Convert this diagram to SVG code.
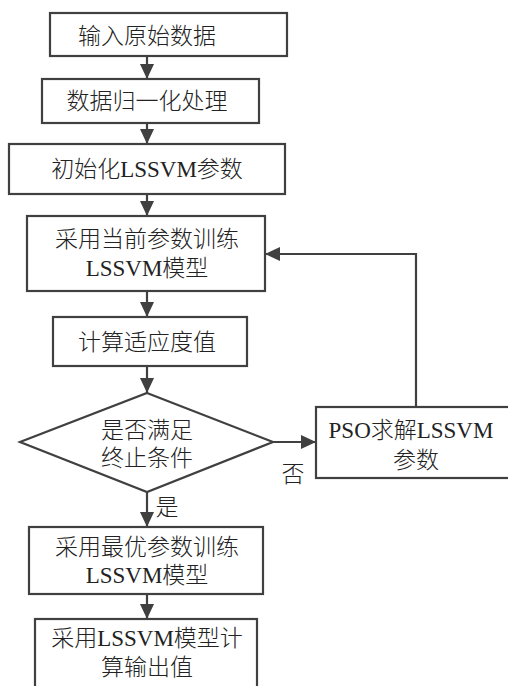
<svg xmlns="http://www.w3.org/2000/svg" width="508" height="686" viewBox="0 0 508 686">
<style>
.box{fill:#fff;stroke:#404040;stroke-width:2.2}
.ln{fill:none;stroke:#404040;stroke-width:2.2}
text{font-family:"Liberation Serif","Noto Sans CJK SC",serif;font-size:23px;font-weight:300;fill:#222;text-anchor:middle}
</style>
<defs>
<marker id="ah" markerUnits="userSpaceOnUse" markerWidth="16" markerHeight="14" refX="15" refY="7" orient="auto">
<path d="M0,0 L15,7 L0,14 Z" fill="#404040"/>
</marker>
</defs>
<rect width="508" height="686" fill="#fff"/>
<g id="connectors">
<line class="ln" x1="147" y1="56" x2="147" y2="79" marker-end="url(#ah)"/>
<line class="ln" x1="147" y1="123" x2="147" y2="144" marker-end="url(#ah)"/>
<line class="ln" x1="147" y1="194" x2="147" y2="216" marker-end="url(#ah)"/>
<line class="ln" x1="147" y1="291" x2="147" y2="317" marker-end="url(#ah)"/>
<line class="ln" x1="147" y1="366" x2="147" y2="393" marker-end="url(#ah)"/>
<line class="ln" x1="273" y1="442" x2="316" y2="442" marker-end="url(#ah)"/>
<line class="ln" x1="147" y1="492" x2="147" y2="527" marker-end="url(#ah)"/>
<line class="ln" x1="147" y1="594" x2="147" y2="619" marker-end="url(#ah)"/>
<polyline class="ln" points="416,407 416,254 265,254" marker-end="url(#ah)"/>
<text x="293" y="482">否</text>
<text x="167" y="515">是</text>
</g>
<g id="n1"><rect class="box" x="50" y="13" width="237" height="43"/><text x="147" y="44">输入原始数据</text></g>
<g id="n2"><rect class="box" x="42" y="79" width="217" height="44"/><text x="147" y="109">数据归一化处理</text></g>
<g id="n3"><rect class="box" x="9" y="144" width="276" height="50"/><text x="147" y="177">初始化LSSVM参数</text></g>
<g id="n4"><rect class="box" x="27" y="216" width="238" height="75"/><text x="147" y="247">采用当前参数训练</text><text x="147" y="276">LSSVM模型</text></g>
<g id="n5"><rect class="box" x="53" y="317" width="194" height="49"/><text x="147" y="350">计算适应度值</text></g>
<g id="n6"><polygon class="box" points="147,393 273,442 147,492 20,442"/><text x="147" y="438">是否满足</text><text x="147" y="466">终止条件</text></g>
<g id="n7"><rect class="box" x="316" y="407" width="200" height="71"/><text x="411" y="438">PSO求解LSSVM</text><text x="416" y="468">参数</text></g>
<g id="n8"><rect class="box" x="29" y="527" width="234" height="67"/><text x="147" y="555">采用最优参数训练</text><text x="147" y="583">LSSVM模型</text></g>
<g id="n9"><rect class="box" x="35" y="619" width="222" height="80"/><text x="147" y="646">采用LSSVM模型计</text><text x="147" y="675">算输出值</text></g>
</svg>
